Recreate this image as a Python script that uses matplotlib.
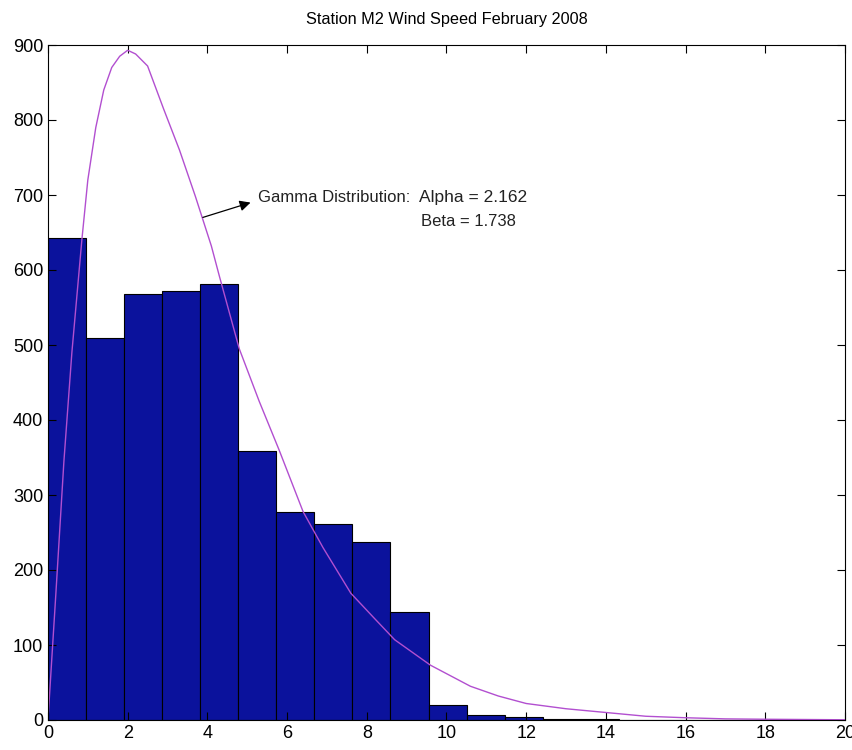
import numpy as np
import matplotlib
matplotlib.use('Agg')
import matplotlib.pyplot as plt

plt.rcParams['font.family'] = ['Liberation Sans Narrow', 'Liberation Sans', 'DejaVu Sans']

# Histogram counts (21 bins)
counts = [643, 510, 568, 572, 582, 359, 277, 261, 238, 144,
          20, 7, 4, 2, 1, 0, 0, 0, 0, 0, 0]
bin_width = 0.955

# Fitted gamma curve
curva_x = [0, 0.2, 0.4, 0.6, 0.85, 1.0, 1.2, 1.4, 1.6, 1.8, 2.0, 2.2, 2.5,
           2.9, 3.3, 3.7, 4.1, 4.3, 4.8, 5.3, 5.8, 6.4, 6.9, 7.6, 8.2, 8.7,
           9.6, 10.6, 11.3, 12.0, 13.0, 14.0, 15.0, 16.0, 17.0, 18.0, 20.0]
curva_y = [0, 170, 345, 490, 640, 720, 790, 840, 870, 885, 893, 888, 872,
           815, 760, 698, 632, 592, 495, 425, 360, 278, 230, 169, 135, 107,
           73, 45, 32, 22, 15, 10, 5, 3, 1.5, 1, 0.3]

fig = plt.figure(figsize=(8.52, 7.5), dpi=100)
ax = fig.add_axes([0.0563, 0.04, 0.9355, 0.90])

bordes = np.arange(len(counts)) * bin_width
ax.bar(bordes, counts, width=bin_width, align='edge',
       color='#0b129c', edgecolor='black', linewidth=0.8)

ax.plot(curva_x, curva_y, color='#b24fd0', linewidth=1.0)

# etiqueta de la curva
ax.annotate('', xy=(5.15, 691), xytext=(3.82, 669),
            arrowprops=dict(arrowstyle='-|>', color='black', lw=0.9,
                            mutation_scale=16))
ax.text(5.28, 697, 'Gamma Distribution:', fontsize=12,
        va='center', ha='left', color='#222222')
ax.text(9.3, 697, 'Alpha = 2.162', fontsize=12.5,
        va='center', ha='left', color='#222222')
ax.text(9.35, 664, 'Beta = 1.738', fontsize=12, va='center', ha='left',
        color='#222222')

ax.set_xlim(0, 20)
ax.set_ylim(0, 900)
ax.set_xticks(np.arange(0, 21, 2))
ax.set_yticks(np.arange(0, 901, 100))
ax.tick_params(direction='in', top=True, right=True, labelsize=13,
               length=6, width=0.8)
ax.set_title('Station M2 Wind Speed February 2008', fontsize=11.7, pad=15)

fig.savefig('out.png', dpi=100)
